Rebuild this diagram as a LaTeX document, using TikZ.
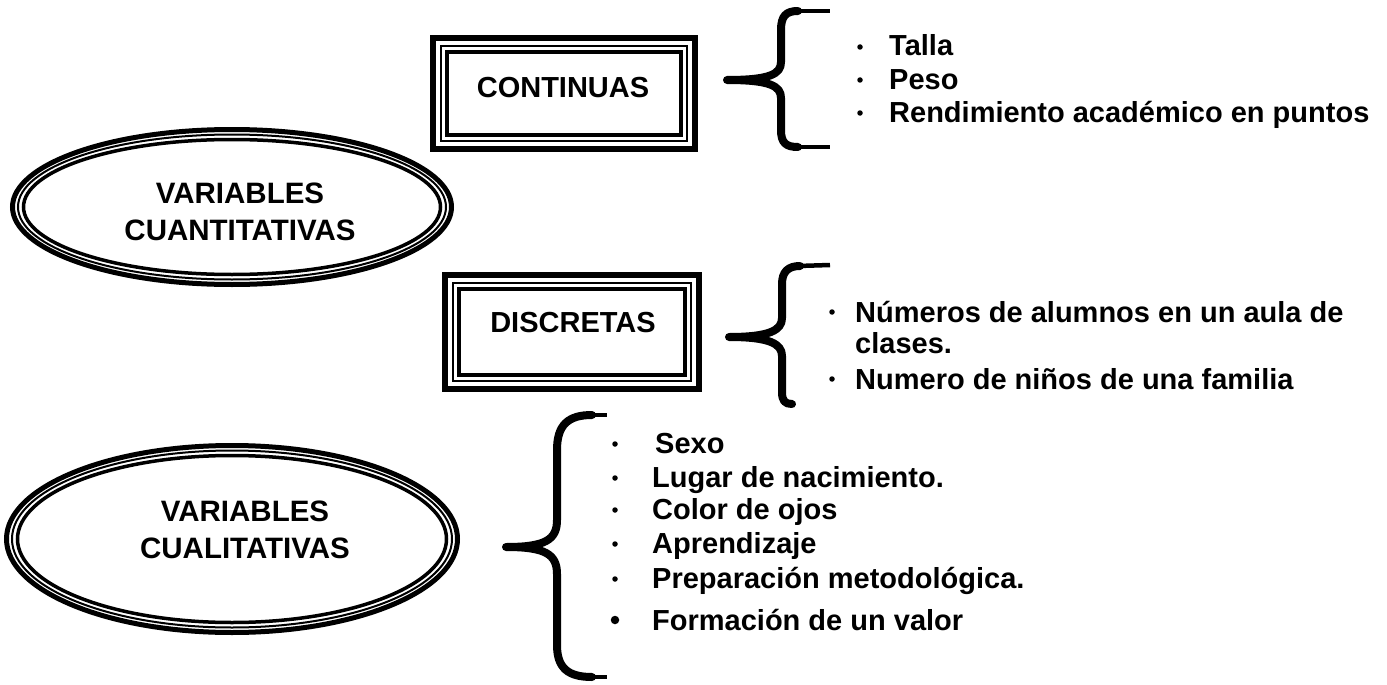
\documentclass[tikz,border=0pt]{standalone}
\usepackage{fontspec}
\setmainfont{Liberation Sans}
\usetikzlibrary{shapes.geometric}
\begin{document}
\begin{tikzpicture}[x=1pt,y=-1pt,
  title/.style={font=\bfseries\fontsize{29.5}{37}\selectfont, align=center, inner sep=0pt},
  boxtitle/.style={font=\bfseries\fontsize{29}{35}\selectfont, inner sep=0pt},
  item/.style={font=\bfseries\fontsize{29}{33}\selectfont, anchor=base west, inner sep=0pt},
  dot/.style={circle, fill=black, inner sep=0pt, minimum size=5.5pt},
  bigdot/.style={circle, fill=black, inner sep=0pt, minimum size=8.5pt},
  brace/.style={line width=8pt, line join=round, line cap=round},
  braceend/.style={line width=4.5pt},
]
\useasboundingbox (0,0) rectangle (1387,685);

% ---------- ellipses ----------
\coordinate (e1) at (232,207);
\draw[line width=5pt] (e1) ellipse [x radius=219.5, y radius=77.5];
\draw[line width=2pt] (e1) ellipse [x radius=214, y radius=72.5];
\draw[line width=3.5pt] (e1) ellipse [x radius=208.5, y radius=67.5];
\node[title] (cuant) at (240,212) {VARIABLES\\CUANTITATIVAS};

\coordinate (e2) at (232,539);
\draw[line width=5pt] (e2) ellipse [x radius=225.5, y radius=93.5];
\draw[line width=2pt] (e2) ellipse [x radius=220, y radius=88.5];
\draw[line width=3.5pt] (e2) ellipse [x radius=214.5, y radius=83.5];
\node[title] (cual) at (245,530) {VARIABLES\\CUALITATIVAS};

% ---------- boxes ----------
\draw[line width=6.5pt] (433,38) rectangle (695,149);
\draw[line width=2pt] (441,46) rectangle (687,141);
\draw[line width=4pt] (447,52) rectangle (681,135);
\node[boxtitle] (cont) at (563,88) {CONTINUAS};

\draw[line width=6.5pt] (445,275) rectangle (699,389);
\draw[line width=2pt] (453,283) rectangle (691,381);
\draw[line width=4pt] (459,289) rectangle (685,375);
\node[boxtitle] (disc) at (573,323) {DISCRETAS};

% ---------- braces ----------
\draw[brace] (798,11) .. controls (786,11) and (781,16) .. (781,30) -- (781,62)
  .. controls (781,74) and (770,80) .. (727,80)
  .. controls (770,80) and (781,86) .. (781,98) -- (781,130)
  .. controls (781,143) and (786,147) .. (798,147);
\draw[braceend] (796,11) -- (830,11);
\draw[braceend] (796,147) -- (830,147);

\draw[brace] (800,266) .. controls (788,266) and (782,272) .. (782,284) -- (782,318)
  .. controls (782,330) and (770,337) .. (729,337)
  .. controls (770,337) and (782,344) .. (782,356) -- (782,392)
  .. controls (782,401) and (785,404) .. (792,404);
\draw[braceend] (798,266) -- (830,265);

\draw[brace] (592,415) .. controls (568,415) and (557,425) .. (557,450) -- (557,520)
  .. controls (557,540) and (545,547) .. (506,547)
  .. controls (545,547) and (557,554) .. (557,574) -- (557,645)
  .. controls (557,668) and (568,677) .. (592,677);
\draw[braceend] (590,415) -- (607,415);
\draw[braceend] (590,677) -- (607,677);

% ---------- continuas items ----------
\node[dot] (c1) at (860,47) {};
\node[item] (t1) at (889,56) {Talla};
\node[dot] (c2) at (860,80) {};
\node[item] (t2) at (889,89) {Peso};
\node[dot] (c3) at (860,113) {};
\node[item] (t3) at (889,122) {Rendimiento académico en puntos};

% ---------- discretas items ----------
\node[dot] (d1) at (832,312) {};
\node[item] (u1) at (855,322) {Números de alumnos en un aula de};
\node[item] (u2) at (855,353) {clases.};
\node[dot] (d2) at (832,379) {};
\node[item] (u3) at (855,389) {Numero de niños de una familia};

% ---------- cualitativas items ----------
\node[dot] (q1) at (615,444) {};
\node[item] (s1) at (655,453) {Sexo};
\node[dot] (q2) at (615,478) {};
\node[item] (s2) at (652,487) {Lugar de nacimiento.};
\node[dot] (q3) at (615,510) {};
\node[item] (s3) at (652,519) {Color de ojos};
\node[dot] (q4) at (615,544) {};
\node[item] (s4) at (652,553) {Aprendizaje};
\node[dot] (q5) at (615,579) {};
\node[item] (s5) at (652,588) {Preparación metodológica.};
\node[bigdot] (q6) at (615,620) {};
\node[item] (s6) at (652,630) {Formación de un valor};
\end{tikzpicture}
\end{document}
